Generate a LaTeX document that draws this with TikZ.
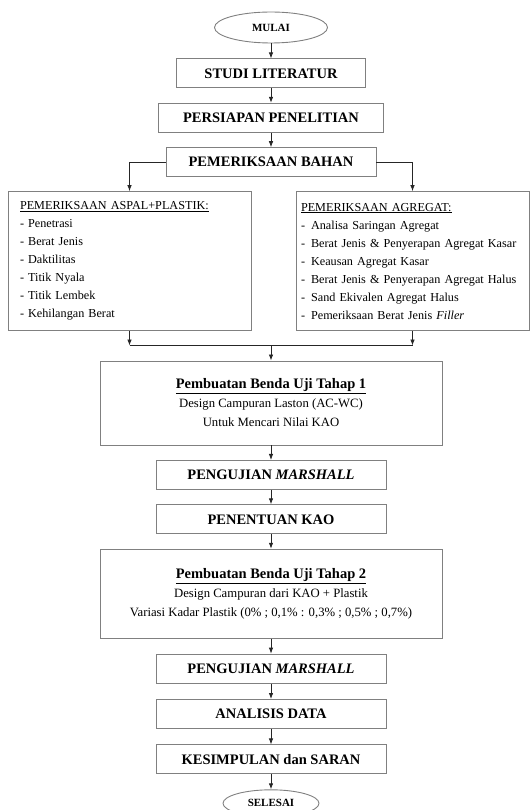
\documentclass[tikz,border=0pt]{standalone}
\usepackage{fontspec}
\setmainfont{Liberation Serif}
\usetikzlibrary{arrows.meta,positioning,calc,shapes.geometric}
\definecolor{boxgray}{gray}{0.5}
\definecolor{linegray}{gray}{0.15}
\newcommand{\marshall}{\textit{MARSHALL}}

\begin{document}
\begin{tikzpicture}[
  node distance=14.5pt,
  box/.style={draw=boxgray, line width=0.9pt, minimum width=#1, minimum height=29pt, inner sep=0pt, font=\fontsize{14.5}{17}\selectfont\bfseries, align=center},
  oval/.style={draw=boxgray, line width=0.9pt, ellipse, minimum width=#1, inner sep=0pt, font=\fontsize{11}{13}\selectfont\bfseries},
  listbox/.style={draw=boxgray, line width=0.9pt, minimum height=139pt, align=left, font=\fontsize{12.2}{18}\selectfont},
  stagebox/.style={draw=boxgray, line width=0.9pt, minimum width=342pt, inner sep=0pt, align=center, font=\fontsize{12.7}{19}\selectfont},
  arr/.style={-{Latex[length=6pt,width=4.5pt]}, line width=0.8pt, color=linegray},
  link/.style={line width=0.8pt, color=linegray},
]
  \useasboundingbox (0,0) rectangle (530pt,-810pt);
  \node[oval=113pt, minimum height=31pt] (mulai) at (271pt,-27.5pt) {MULAI};
  \node[box=189pt, below=15pt of mulai] (studi) {STUDI LITERATUR};
  \node[box=225pt, below=of studi] (persiapan) {PERSIAPAN PENELITIAN};
  \node[box=210pt, below=of persiapan] (bahan) {PEMERIKSAAN BAHAN};
  \node[listbox, text width=219pt, inner xsep=12pt, below=14pt of bahan, xshift=-141.5pt] (aspal) {\underline{PEMERIKSAAN ASPAL+PLASTIK:}\\ - Penetrasi\\ - Berat Jenis\\ - Daktilitas\\ - Titik Nyala\\ - Titik Lembek\\ - Kehilangan Berat};
  \node[listbox, text width=223pt, inner xsep=5pt, below=14pt of bahan, xshift=141.5pt] (agregat) {\underline{PEMERIKSAAN AGREGAT:}\\ -\hspace{6pt}Analisa Saringan Agregat\\ -\hspace{6pt}Berat Jenis \& Penyerapan Agregat Kasar\\ -\hspace{6pt}Keausan Agregat Kasar\\ -\hspace{6pt}Berat Jenis \& Penyerapan Agregat Halus\\ -\hspace{6pt}Sand Ekivalen Agregat Halus\\ -\hspace{6pt}Pemeriksaan Berat Jenis \textit{Filler}};
  \coordinate (join) at ($(bahan.south |- aspal.south)+(0,-14.5pt)$);
  \node[stagebox, minimum height=84pt, below=15pt of join] (tahapsatu) {{\fontsize{14.5}{19}\selectfont\bfseries\underline{Pembuatan Benda Uji Tahap 1}}\\ Design Campuran Laston (AC-WC)\\ Untuk Mencari Nilai KAO};
  \node[box=230pt, below=of tahapsatu] (ujisatu) {PENGUJIAN \marshall};
  \node[box=230pt, below=of ujisatu] (kao) {PENENTUAN KAO};
  \node[stagebox, minimum height=89pt, below=of kao] (tahapdua) {{\fontsize{14.5}{19}\selectfont\bfseries\underline{Pembuatan Benda Uji Tahap 2}}\\ Design Campuran dari KAO + Plastik\\ Variasi Kadar Plastik (0\% ; 0,1\% : 0,3\% ; 0,5\% ; 0,7\%)};
  \node[box=230pt, below=15pt of tahapdua] (ujidua) {PENGUJIAN \marshall};
  \node[box=230pt, below=15.5pt of ujidua] (analisis) {ANALISIS DATA};
  \node[box=230pt, below=15.5pt of analisis] (kesimpulan) {KESIMPULAN dan SARAN};
  \node[oval=96pt, minimum height=27pt, below=15pt of kesimpulan] (selesai) {SELESAI};

  \draw[arr] (mulai) -- (studi);
  \draw[arr] (studi) -- (persiapan);
  \draw[arr] (persiapan) -- (bahan);
  \draw[arr] (bahan.west) -| (aspal.north);
  \draw[arr] (bahan.east) -| (agregat.north);
  \draw[arr] (aspal.south) -- (aspal.south |- join);
  \draw[arr] (agregat.south) -- (agregat.south |- join);
  \draw[link] (aspal.south |- join) -- (agregat.south |- join);
  \draw[arr] (join) -- (tahapsatu);
  \draw[arr] (tahapsatu) -- (ujisatu);
  \draw[arr] (ujisatu) -- (kao);
  \draw[arr] (kao) -- (tahapdua);
  \draw[arr] (tahapdua) -- (ujidua);
  \draw[arr] (ujidua) -- (analisis);
  \draw[arr] (analisis) -- (kesimpulan);
  \draw[arr] (kesimpulan) -- (selesai);
\end{tikzpicture}
\end{document}
